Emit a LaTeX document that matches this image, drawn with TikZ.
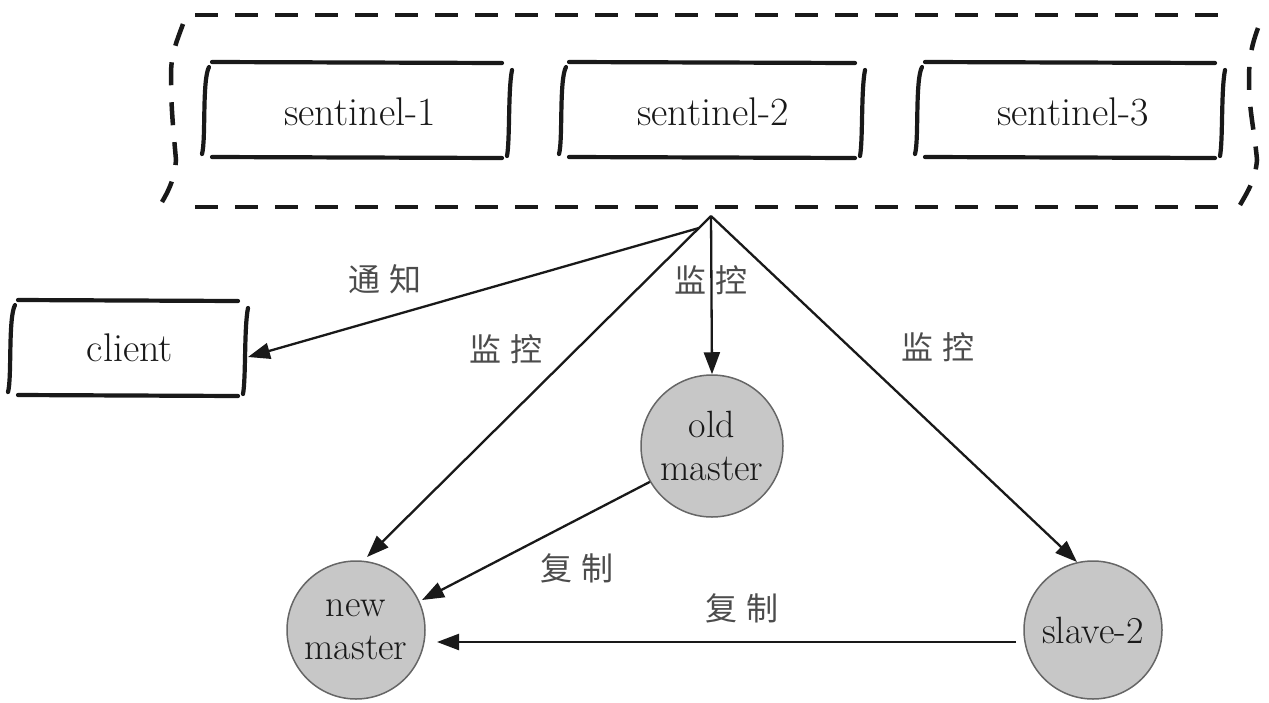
\documentclass[tikz,border=0pt]{standalone}
\usepackage{fontspec}
\newfontfamily\cjk{Noto Sans CJK SC}
\usetikzlibrary{arrows.meta,calc}
\newcommand\handbox[3]{%
  \begin{scope}[shift={(#1,#2)}]
    \draw[boxline] (-#3,-48) -- (#3,-47);
    \draw[boxline] (-#3,47) -- (#3,48);
    \draw[boxline] (-#3-3,-43) .. controls (-#3-10,-30) and (-#3-6,30) .. (-#3-10,44);
    \draw[boxline] (#3+10,-40) .. controls (#3+6,-20) and (#3+8,30) .. (#3+5,46);
  \end{scope}}
\begin{document}
\begin{tikzpicture}[x=1pt,y=-1pt,
  boxline/.style={line width=4.2pt,line cap=round,black!90},
  outer/.style={line width=4.5pt,dash pattern=on 23pt off 17pt,black!90},
  conn/.style={line width=2.3pt,black!90,-{Triangle[length=22pt,width=16pt]}},
  lbl/.style={font=\fontsize{40}{46}\selectfont,text=black!90,inner sep=0pt},
  cn/.style={font=\cjk\fontsize{32}{36}\selectfont,text=black!70,inner sep=0pt},
  circ/.style={circle,draw=black!60,line width=1.5pt,fill=black!22,minimum size=138pt,inner sep=0pt,align=center,font=\fontsize{38}{43}\selectfont,text=black!90}]
\useasboundingbox (0,0) rectangle (1269,702);
\fill[white] (0,0) rectangle (1269,702);

% outer dashed group
\draw[outer] (195,15) -- (1218,15);
\draw[outer] (195,207) -- (1218,207);
\draw[outer] (183,24) to[out=250,in=90] (171,75) to[out=270,in=95] (176,160) to[out=265,in=60] (162,202);
\draw[outer] (1258,28) to[out=250,in=90] (1249,80) to[out=270,in=95] (1257,160) to[out=265,in=60] (1240,205);

% sentinel boxes
\handbox{357}{110}{145}
\handbox{712}{110}{143}
\handbox{1070}{110}{145}
\node[lbl] (s1) at (360,112) {sentinel-1};
\node[lbl] (s2) at (713,112) {sentinel-2};
\node[lbl] (s3) at (1073,112) {sentinel-3};

% client
\handbox{128}{348}{110}
\node[lbl] (client) at (130,348) {client};

% circles
\node[circ] (new) at (356,630) {new\\master};
\node[circ,minimum size=142pt] (old) at (712,446) {old\\master};
\node[circ] (slave) at (1093,630) {slave-2};

\coordinate (apex) at (711,216);
\coordinate (apex2) at (699,228);

\draw[conn] (apex2) -- (248,357);
\draw[conn] (apex) -- ($(new.center)+(11,-73)$);
\draw[conn] (apex) -- (old.north);
\draw[conn] (apex) -- ($(slave.center)+(-16,-68)$);
\draw[conn] (old.210) -- ($(new.center)+(66,-30)$);
\draw[conn,shorten <=10pt] ($(slave.center)+(-67,12)$) -- ($(new.center)+(81,12)$);

% labels
\node[cn] at (385,279) {通\hspace{9pt}知};
\node[cn] at (506,349) {监\hspace{9pt}控};
\node[cn] at (711,280) {监\hspace{9pt}控};
\node[cn] at (938,347) {监\hspace{9pt}控};
\node[cn] at (577,568) {复\hspace{9pt}制};
\node[cn] at (742,608) {复\hspace{9pt}制};
\end{tikzpicture}
\end{document}
